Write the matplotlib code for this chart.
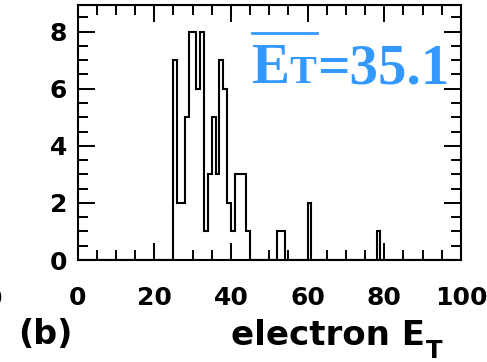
import numpy as np
import matplotlib
matplotlib.use("Agg")
import matplotlib.pyplot as plt
from matplotlib.transforms import IdentityTransform
from matplotlib.lines import Line2D
from matplotlib.ticker import MultipleLocator

# Electron transverse energy histogram (1 GeV bins)
et_bin_low = [25, 26, 27, 28, 29, 30, 31, 32, 33, 34, 35, 36, 37, 38, 39,
              40, 41, 42, 43, 44, 52, 53, 60, 78]
et_counts = [7, 2, 2, 5, 8, 8, 6, 8, 1, 3, 5, 3, 7, 6, 2,
             1, 3, 3, 3, 1, 1, 1, 2, 1]
x_ticks = [0, 20, 40, 60, 80, 100]
y_ticks = [0, 2, 4, 6, 8]
mean_label = "=35.1"
panel_label = "(b)"
x_label = "electron E"

W, H = 487, 362
fig = plt.figure(figsize=(W / 100, H / 100), dpi=100)
ax = fig.add_axes([77.6 / W, 1 - 260 / H, (461 - 77.6) / W, (260 - 5) / H])

edges = np.arange(0, 101)
values = np.zeros(100)
for lo, c in zip(et_bin_low, et_counts):
    values[lo] = c
ax.stairs(values, edges, baseline=0, fill=False, color="black", linewidth=1.5)

ax.set_xlim(0, 100)
ax.set_ylim(0, 8.93)
ax.set_xticks(x_ticks)
ax.set_yticks(y_ticks)
ax.xaxis.set_minor_locator(MultipleLocator(5))
ax.yaxis.set_minor_locator(MultipleLocator(0.5))
for s in ax.spines.values():
    s.set_linewidth(1.5)
ax.tick_params(which="both", direction="in", top=True, right=True, width=1.4)
ax.tick_params(which="major", length=12.5)
ax.tick_params(which="minor", length=7)
ax.tick_params(axis="x", which="major", pad=18.5)
ax.tick_params(axis="y", which="major", pad=7.5)
for lab in ax.get_xticklabels() + ax.get_yticklabels():
    lab.set_fontsize(18)
    lab.set_fontweight("bold")

ident = IdentityTransform()


def px(x, y):
    return x, H - y


# panel and axis labels
fig.text(*px(18, 344), panel_label, transform=ident, fontsize=24, fontweight="bold",
         ha="left", va="baseline")
xl = fig.text(*px(231, 345), x_label, transform=ident, fontsize=24.5,
              fontweight="bold", ha="left", va="baseline")
renderer = fig.canvas.get_renderer()
xl_ext = xl.get_window_extent(renderer)
fig.text(xl_ext.x1 + 0.5, H - 357.5, "T", transform=ident, fontsize=17.5,
         fontweight="bold", ha="left", va="baseline")

# fragment of the neighbouring panel's tick label
fig.text(*px(2.5, 306), "0", transform=ident, fontsize=18, fontweight="bold",
         ha="right", va="baseline")

# mean transverse energy annotation
blue = "#3399FF"
serif = "Liberation Serif"
base_y = H - 83
e_txt = fig.text(251, base_y, "E", transform=ident, fontsize=41, fontweight="bold",
                 family=serif, color=blue, ha="left", va="baseline")
e_ext = e_txt.get_window_extent(renderer)
t_txt = fig.text(e_ext.x1, base_y, "T", transform=ident, fontsize=29,
                 fontweight="bold", family=serif, color=blue, ha="left",
                 va="baseline")
t_ext = t_txt.get_window_extent(renderer)
fig.text(t_ext.x1 + 1, base_y, mean_label, transform=ident, fontsize=41,
         fontweight="bold", family=serif, color=blue, ha="left", va="baseline")
fig.add_artist(Line2D([251.7, t_ext.x1 + 1], [H - 33.3, H - 33.3], transform=ident,
                      color=blue, linewidth=2))

fig.savefig("out.png", dpi=100)
